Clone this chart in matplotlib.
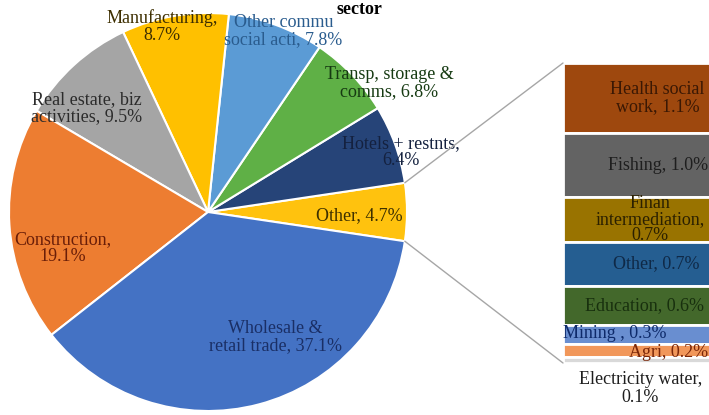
import numpy as np
import matplotlib
matplotlib.use("Agg")
import matplotlib.pyplot as plt
from matplotlib.patches import ConnectionPatch

plt.rcParams["font.family"] = ["Liberation Serif", "DejaVu Serif"]

# pie slices, counter-clockwise starting with the "Other" slice that is broken out
pie_labels = [
    "Other, 4.7%",
    "Hotels + restnts,\n6.4%",
    "Transp, storage &\ncomms, 6.8%",
    "Other commu\nsocial acti, 7.8%",
    "Manufacturing,\n8.7%",
    "Real estate, biz\nactivities, 9.5%",
    "Construction,\n19.1%",
    "Wholesale &\nretail trade, 37.1%",
]
pie_values = [4.7, 6.4, 6.8, 7.8, 8.7, 9.5, 19.1, 37.1]
pie_colors = ["#FFC20E", "#264478", "#5FB046", "#5B9BD5", "#FFC000",
              "#A5A5A5", "#ED7D31", "#4472C4"]
pie_text_colors = ["#3D3000", "#14213F", "#163A12", "#2A5C8E", "#3D2E00",
                   "#2B2B2B", "#6A1E08", "#1A2F66"]
# label anchor positions (pie radius units)
pie_label_xy = [(0.76, -0.02), (0.97, 0.30), (0.91, 0.65), (0.38, 0.91),
                (-0.23, 0.93), (-0.61, 0.52), (-0.73, -0.18), (0.34, -0.63)]

# bar breakdown of "Other", top to bottom
bar_labels = [
    "Health social\nwork, 1.1%",
    "Fishing, 1.0%",
    "Finan\nintermediation,\n0.7%",
    "Other, 0.7%",
    "Education, 0.6%",
    "Mining , 0.3%",
    "Agri, 0.2%",
    "Electricity water,\n0.1%",
]
bar_values = [1.1, 1.0, 0.7, 0.7, 0.6, 0.3, 0.2, 0.1]
bar_colors = ["#9E480E", "#636363", "#997300", "#255E91", "#43682B",
              "#698ED0", "#F1975A", "#D9D9D9"]
bar_text_colors = ["#3A1804", "#1E1E1E", "#2B2000", "#0F2947", "#18300E",
                   "#0E2A6A", "#7A2608", "#1E1E1E"]
# horizontal label anchor inside the bar (bar-width fraction)
bar_label_x = [0.52, 0.52, 0.48, 0.51, 0.45, 0.0, 0.795, 0.425]

W, H = 709, 415
FS = 13
fig = plt.figure(figsize=(W / 100, H / 100), dpi=100)

# pie axes: centre (208, 212) px, radius 199 px
cx, cy, r = 208, 212, 199
ax1 = fig.add_axes([(cx - r) / W, (H - cy - r) / H, 2 * r / W, 2 * r / H])
share = pie_values[0] / sum(pie_values)
start = -share * 180
wedges, _ = ax1.pie(pie_values, colors=pie_colors, startangle=start,
                    counterclock=True, radius=1,
                    wedgeprops=dict(edgecolor="white", linewidth=1.5))
ax1.set_xlim(-1, 1)
ax1.set_ylim(-1, 1)
ax1.set_aspect("equal")
ax1.axis("off")
for lab, (x, y), c in zip(pie_labels, pie_label_xy, pie_text_colors):
    ax1.text(x, y, lab, ha="center", va="center", fontsize=FS, color=c,
             linespacing=1.0)

# bar axes
bl, bt, bb, br = 563, 63, 363, 745
ax2 = fig.add_axes([bl / W, (H - bb) / H, (br - bl) / W, (bb - bt) / H])
total = sum(bar_values)
tops = total - np.cumsum([0] + bar_values[:-1])
bottoms = tops - np.array(bar_values)
ax2.bar(0.5, bar_values, bottom=bottoms, width=1, color=bar_colors,
        edgecolor="white", linewidth=2)
ax2.set_xlim(0, 1)
ax2.set_ylim(0, total)
ax2.axis("off")

for i, (lab, c, lx) in enumerate(zip(bar_labels, bar_text_colors, bar_label_x)):
    mid = (tops[i] + bottoms[i]) / 2
    if lab.startswith("Mining"):
        ax2.text(lx, mid + 0.02, lab, ha="left", va="center", fontsize=FS, color=c)
    elif lab.startswith("Agri"):
        ax2.text(lx, mid - 0.04, lab, ha="right", va="center", fontsize=FS, color=c)
    elif lab.startswith("Electricity"):
        ax2.text(lx, -0.13, lab, ha="center", va="top", fontsize=FS, color=c,
                 linespacing=1.05)
    else:
        ax2.text(lx, mid, lab, ha="center", va="center", fontsize=FS, color=c,
                 linespacing=0.95)

# connector lines from the broken-out slice to the bar
theta = np.deg2rad(share * 180)
for sign, ybar in [(1, total), (-1, 0)]:
    con = ConnectionPatch(xyA=(np.cos(theta), sign * np.sin(theta)), coordsA=ax1.transData,
                          xyB=(0, ybar), coordsB=ax2.transData,
                          color="#A6A6A6", linewidth=1)
    fig.add_artist(con)

fig.text(359 / W, 1 - 0.5 / H, "sector", ha="center", va="top",
         fontsize=13, fontweight="bold")

fig.savefig("out.png", dpi=100)
